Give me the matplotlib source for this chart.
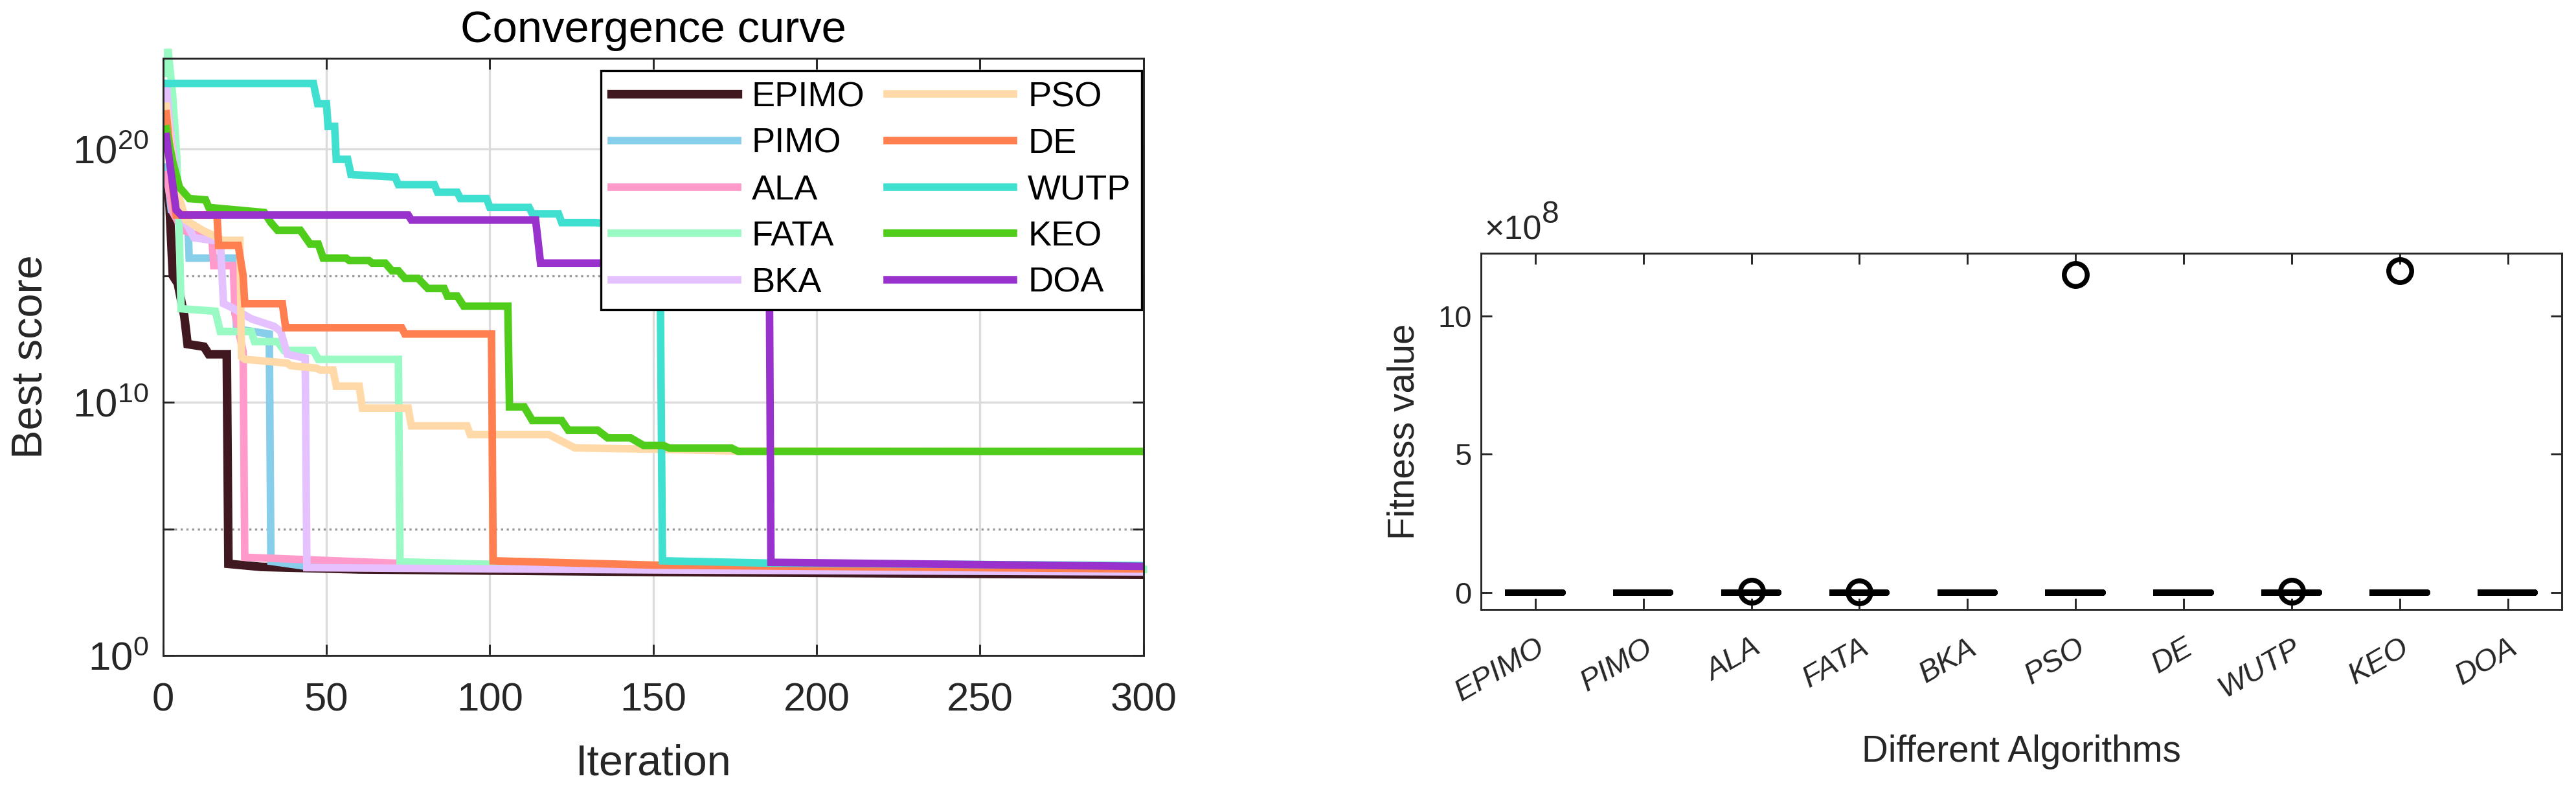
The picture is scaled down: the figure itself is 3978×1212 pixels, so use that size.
import numpy as np
import matplotlib
matplotlib.use('Agg')
import matplotlib.pyplot as plt
from matplotlib.ticker import FixedLocator, FuncFormatter, NullFormatter

plt.rcParams['font.family'] = ['Liberation Sans', 'DejaVu Sans']
plt.rcParams['mathtext.fontset'] = 'custom'
plt.rcParams['mathtext.rm'] = 'Liberation Sans'
plt.rcParams['mathtext.it'] = 'Liberation Sans:italic'
plt.rcParams['mathtext.bf'] = 'Liberation Sans:bold'

algos = ['EPIMO', 'PIMO', 'ALA', 'FATA', 'BKA', 'PSO', 'DE', 'WUTP', 'KEO', 'DOA']
colors = ['#401820', '#87CEEB', '#FF9ACB', '#9AFAC4', '#E5C1FF',
          '#FFDAA8', '#FF7F50', '#40E0D0', '#50CC1A', '#9932CC']

# convergence curves: iteration breakpoints and best score (as decade exponent)
epimo_it = [1, 2, 3, 4.5, 6.5, 7.5, 12.5, 14, 19.5, 20, 30, 60, 150, 300]
epimo_exp = [19.1, 17.7, 15.0, 14.7, 13.4, 12.3, 12.2, 11.9, 11.9, 3.62, 3.5, 3.4, 3.3, 3.19]

pimo_it = [1, 2.5, 7.5, 8, 21.5, 22.5, 32.5, 33, 45, 150, 300]
pimo_exp = [19.3, 17.6, 17.4, 15.7, 15.7, 12.9, 12.7, 3.72, 3.5, 3.4, 3.35]

ala_it = [1, 3, 6, 15, 15.5, 21.5, 22, 24.5, 25, 70, 150, 300]
ala_exp = [19.0, 17.5, 16.8, 16.4, 15.4, 15.4, 13.5, 12.0, 3.88, 3.65, 3.5, 3.38]

fata_it = [1, 1.5, 2.9, 4.2, 4.9, 5.5, 16, 17.5, 27, 28, 35, 37, 46, 47.5, 72, 72.5, 100, 300]
fata_exp = [23.0, 23.96, 22.2, 19.7, 17.1, 13.7, 13.6, 12.8, 12.8, 12.4, 12.4, 12.05, 12.05, 11.7, 11.7, 3.7, 3.6, 3.4]

bka_it = [1, 2, 5, 7, 9.5, 15, 17.5, 18.5, 21, 27, 34, 36, 38, 43.5, 44, 150, 300]
bka_exp = [22.5, 21.0, 18.0, 17.1, 16.5, 16.4, 16.4, 13.9, 13.75, 13.3, 13.0, 12.8, 11.9, 11.75, 3.47, 3.38, 3.3]

pso_it = [1, 2, 4, 7, 12, 17, 18, 23.5, 24, 25, 38, 39, 47, 48, 52, 53, 60, 61, 75, 76, 93, 94,
          118, 126, 150, 175, 300]
pso_exp = [21.7, 20.5, 18.5, 17.2, 16.8, 16.5, 16.4, 16.4, 11.8, 11.7, 11.55, 11.45, 11.35, 11.28,
           11.28, 10.64, 10.64, 9.77, 9.77, 9.07, 9.07, 8.73, 8.73, 8.2, 8.15, 8.08, 8.06]

de_it = [1, 2, 3, 4, 16.5, 17, 23, 24.5, 25, 36.5, 37.5, 73, 74, 100.5, 101, 150, 300]
de_exp = [21.4, 20.1, 18.4, 17.4, 17.4, 16.2, 16.2, 15.0, 13.9, 13.9, 12.95, 12.95, 12.7, 12.7,
          3.74, 3.57, 3.42]

wutp_it = [1, 46, 47.3, 50, 50.5, 52.5, 53, 56.5, 57.5, 71, 72, 83, 84, 90, 91, 99, 100, 112,
           113, 121, 122, 132, 145, 152, 152.8, 185, 300]
wutp_exp = [22.6, 22.6, 21.8, 21.8, 20.9, 20.9, 19.6, 19.6, 19.0, 18.9, 18.6, 18.6, 18.3, 18.3,
            18.05, 18.05, 17.7, 17.7, 17.45, 17.45, 17.1, 17.1, 17.0, 16.9, 3.74, 3.65, 3.55]

keo_it = [1, 3, 5, 8, 13, 14, 31, 33, 35, 42, 45, 47.5, 49, 56, 57, 63, 64, 68, 70, 72, 74, 78,
          81, 86, 87, 90, 92, 105.5, 106, 110.5, 113, 122, 124, 133, 136, 143, 147, 153, 155,
          174, 176, 300]
keo_exp = [20.8, 19.5, 18.5, 18.05, 18.0, 17.7, 17.5, 17.1, 16.8, 16.8, 16.25, 16.25, 15.7, 15.7,
           15.6, 15.6, 15.5, 15.5, 15.2, 15.2, 14.9, 14.9, 14.5, 14.5, 14.2, 14.2, 13.8, 13.8,
           9.82, 9.82, 9.28, 9.28, 8.9, 8.9, 8.6, 8.6, 8.3, 8.3, 8.19, 8.19, 8.06, 8.06]

doa_it = [1, 2, 4, 5.5, 75, 76, 114, 115.5, 185.5, 186, 300]
doa_exp = [20.5, 19.5, 17.6, 17.4, 17.4, 17.2, 17.2, 15.5, 15.5, 3.68, 3.52]

curves_it = [epimo_it, pimo_it, ala_it, fata_it, bka_it, pso_it, de_it, wutp_it, keo_it, doa_it]
curves_exp = [epimo_exp, pimo_exp, ala_exp, fata_exp, bka_exp, pso_exp, de_exp, wutp_exp, keo_exp, doa_exp]

# final fitness of independent runs (box plot)
epimo_final = [1.5e3, 1.6e3, 1.7e3, 1.9e3, 2.2e3, 2.6e3]
pimo_final = [2.0e3, 2.3e3, 2.6e3, 2.9e3, 3.3e3, 3.8e3]
ala_final = [2.1e3, 2.4e3, 2.7e3, 3.1e3, 3.5e3, 4.6e6]
fata_final = [2.3e3, 2.6e3, 3.0e3, 3.4e3, 3.9e3, 2.7e6]
bka_final = [2.0e3, 2.2e3, 2.5e3, 2.8e3, 3.2e3, 3.6e3]
pso_final = [3.1e3, 4.5e3, 6.8e3, 9.2e3, 1.4e4, 1.15e9]
de_final = [2.4e3, 2.7e3, 3.1e3, 3.5e3, 4.0e3, 4.4e3]
wutp_final = [2.6e3, 3.0e3, 3.4e3, 3.9e3, 4.5e3, 3.8e6]
keo_final = [2.2e4, 5.1e4, 9.6e4, 1.8e5, 3.3e5, 1.164e9]
doa_final = [2.8e3, 3.2e3, 3.6e3, 4.1e3, 4.7e3, 5.3e3]
finals = [epimo_final, pimo_final, ala_final, fata_final, bka_final,
          pso_final, de_final, wutp_final, keo_final, doa_final]

axcol = '#262626'
fig = plt.figure(figsize=(13.26, 4.04), dpi=300)

# ---- convergence curve
ax1 = fig.add_axes([0.0633, 0.165, 0.3806, 0.761])
for i in range(len(algos)):
    lw = 3.2 if i == 0 else 2.8
    ax1.plot(curves_it[i], np.power(10.0, curves_exp[i]), '-', color=colors[i], lw=lw,
             label=algos[i], clip_on=(i != 3), solid_joinstyle='miter')
ax1.set_yscale('log')
ax1.set_xlim(0, 300)
ax1.set_ylim(1, 10 ** 23.6)
ax1.set_xticks(range(0, 301, 50))
ax1.yaxis.set_major_locator(FixedLocator([1, 1e10, 1e20]))
ax1.yaxis.set_minor_locator(FixedLocator([1e5, 1e15]))
ax1.yaxis.set_minor_formatter(NullFormatter())
ax1.grid(True, which='major', color='#DCDCDC', lw=0.8)
ax1.grid(True, which='minor', axis='y', ls=':', color='#9A9A9A', lw=0.8)
ax1.set_axisbelow(True)
ax1.tick_params(which='both', direction='in', top=True, right=True, length=4, width=0.7,
                color=axcol, labelsize=14.8, labelcolor=axcol)
ax1.tick_params(axis='x', pad=10)
ax1.tick_params(axis='y', pad=5.5)
for s in ax1.spines.values():
    s.set_color(axcol)
    s.set_linewidth(0.7)
ax1.set_title('Convergence curve', fontsize=16.5, color='black', pad=6)
ax1.set_xlabel('Iteration', fontsize=16, color=axcol, labelpad=9)
ax1.set_ylabel('Best score', fontsize=16, color=axcol, labelpad=8)
leg = ax1.legend(loc='upper right', bbox_to_anchor=(0.998, 0.979), borderaxespad=0, ncol=2,
                 fontsize=13, handlelength=3.6, handletextpad=0.4, columnspacing=0.65,
                 labelspacing=0.4, borderpad=0.3, fancybox=False, framealpha=1,
                 edgecolor='black')
leg.get_frame().set_linewidth(0.8)

# ---- box plot
ax2 = fig.add_axes([0.575, 0.224, 0.4195, 0.453])
ax2.boxplot(finals, positions=range(1, 11), widths=0.5,
            boxprops=dict(color='black', lw=2.4),
            medianprops=dict(color='black', lw=2.4),
            whiskerprops=dict(color='black', lw=2.0),
            capprops=dict(color='black', lw=2.0),
            flierprops=dict(marker='o', mfc='none', mec='black', ms=8.5, mew=1.8))
ax2.set_xlim(0.5, 10.5)
ax2.set_ylim(-0.6e8, 12.25e8)
ax2.set_yticks([0, 5e8, 10e8])
ax2.yaxis.set_major_formatter(FuncFormatter(lambda v, p: '%g' % (v / 1e8)))
ax2.set_xticks(range(1, 11))
ax2.set_xticklabels(algos, rotation=30, ha='right', rotation_mode='anchor', style='italic')
ax2.tick_params(direction='in', top=True, right=True, length=4, width=0.7, color=axcol,
                labelsize=11.3, labelcolor=axcol)
ax2.tick_params(axis='x', pad=9)
ax2.tick_params(axis='y', pad=3.5)
for s in ax2.spines.values():
    s.set_color(axcol)
    s.set_linewidth(0.7)
# exponent label above the axes, as MATLAB draws it
base = ax2.text(0.003, 1.02, '\u00d710', transform=ax2.transAxes, fontsize=12.5,
                ha='left', va='bottom', color=axcol)
ax2.annotate('8', xy=(1.0, 0.55), xycoords=base, fontsize=11.5, ha='left', va='bottom',
             color=axcol)
ax2.set_xlabel('Different Algorithms', fontsize=13.6, color=axcol, labelpad=10)
ax2.set_ylabel('Fitness value', fontsize=13.6, color=axcol, labelpad=6)

fig.savefig('out.png', dpi=300)
